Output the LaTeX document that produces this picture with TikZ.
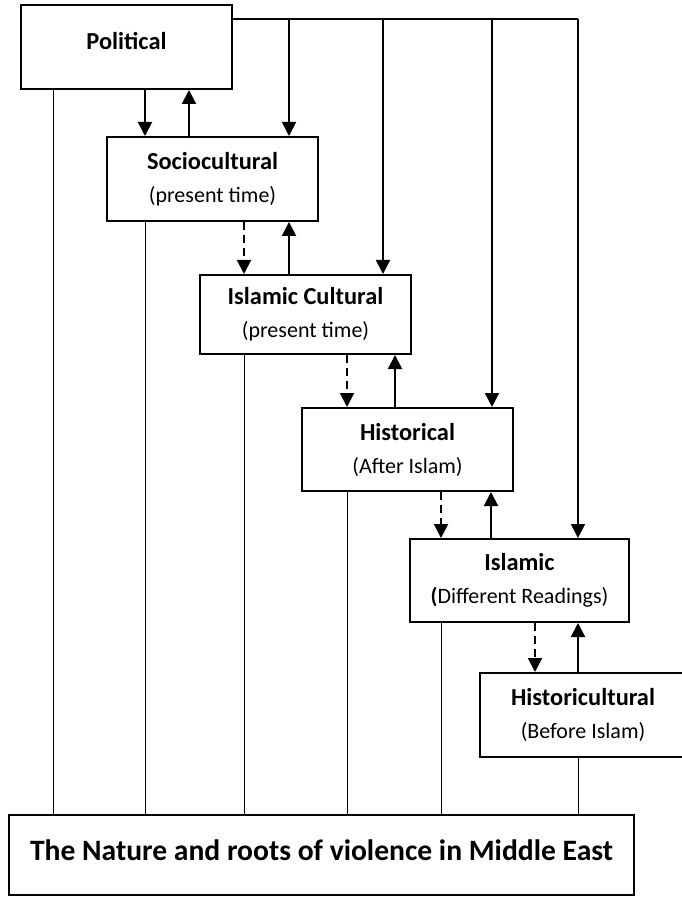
\documentclass[tikz,border=0pt]{standalone}
\usepackage{fontspec}
\setmainfont{Carlito}
\usetikzlibrary{arrows.meta}
\newcommand\ttl[1]{{\fontsize{12.2}{14}\selectfont\bfseries #1}}
\tikzset{
  box/.style={draw, line width=1pt, inner sep=0pt, align=center, font=\fontsize{11}{13}\selectfont},
  arr/.style={line width=1pt, -{Triangle[length=7pt,width=7pt]}},
  darr/.style={arr, dash pattern=on 4pt off 2.5pt},
  feed/.style={line width=0.9pt, -{Triangle[length=7pt,width=7pt]}},
  bus/.style={line width=0.6pt},
  tie/.style={line width=0.5pt}
}

\begin{document}
\begin{tikzpicture}[x=0.5pt, y=-0.5pt]
  \useasboundingbox (0,0) rectangle (681,897);
  %%%%% START %%%%%
  \node[box, minimum width=105.5pt, minimum height=42pt,
        label={[name=poltxt, yshift=3pt]center:\ttl{Political}}] (pol) at (126.5,47) {};
  \node[box, minimum width=105.5pt, minimum height=42pt] (soc) at (212.5,179)
       {\ttl{Sociocultural}\\[3.5pt](present time)};
  \node[box, minimum width=105.5pt, minimum height=39.5pt] (isc) at (305.5,314.5)
       {\ttl{Islamic Cultural}\\[3.5pt](present time)};
  \node[box, minimum width=105.5pt, minimum height=41.5pt] (his) at (407.5,449.5)
       {\ttl{Historical}\\[3.5pt](After Islam)};
  \node[box, minimum width=109.5pt, minimum height=41.5pt] (isl) at (519.5,580.5)
       {\ttl{Islamic}\\[3.5pt]\textbf{(}Different Readings)};
  \node[box, minimum width=103pt, minimum height=42pt] (hcu) at (583,715)
       {\ttl{Historicultural}\\[3.5pt](Before Islam)};
  \node[box, minimum width=312.5pt, minimum height=40pt,
        label={[name=nattxt, yshift=2.5pt, font=\fontsize{14.8}{17}\selectfont\bfseries]center:The Nature and roots of violence in Middle East}] (nat) at (321.5,855) {};

  % arrows between neighbouring boxes
  \draw[arr] (145,0 |- pol.south) -- (145,0 |- soc.north);
  \draw[arr] (189,0 |- soc.north) -- (189,0 |- pol.south);
  \draw[darr] (244,0 |- soc.south) -- (244,0 |- isc.north);
  \draw[arr] (289,0 |- isc.north) -- (289,0 |- soc.south);
  \draw[darr] (347,0 |- isc.south) -- (347,0 |- his.north);
  \draw[arr] (395,0 |- his.north) -- (395,0 |- isc.south);
  \draw[darr] (441,0 |- his.south) -- (441,0 |- isl.north);
  \draw[arr] (491,0 |- isl.north) -- (491,0 |- his.south);
  \draw[darr] (535,0 |- isl.south) -- (535,0 |- hcu.north);
  \draw[arr] (578,0 |- hcu.north) -- (578,0 |- isl.south);

  % political feed line
  \coordinate (busend) at (578,19);
  \draw[bus] (pol.east |- busend) -- (busend);
  \draw[feed] (289,0 |- busend) -- (289,0 |- soc.north);
  \draw[feed] (383,0 |- busend) -- (383,0 |- isc.north);
  \draw[feed] (492,0 |- busend) -- (492,0 |- his.north);
  \draw[feed] (busend) -- (busend |- isl.north);

  % lines down to the root box
  \foreach \n/\x in {pol/53, soc/145, isc/244, his/347, isl/441, hcu/578}
    \draw[tie] (\x,0 |- \n.south) -- (\x,0 |- nat.north);
  %%%%% END %%%%%
\end{tikzpicture}
\end{document}
